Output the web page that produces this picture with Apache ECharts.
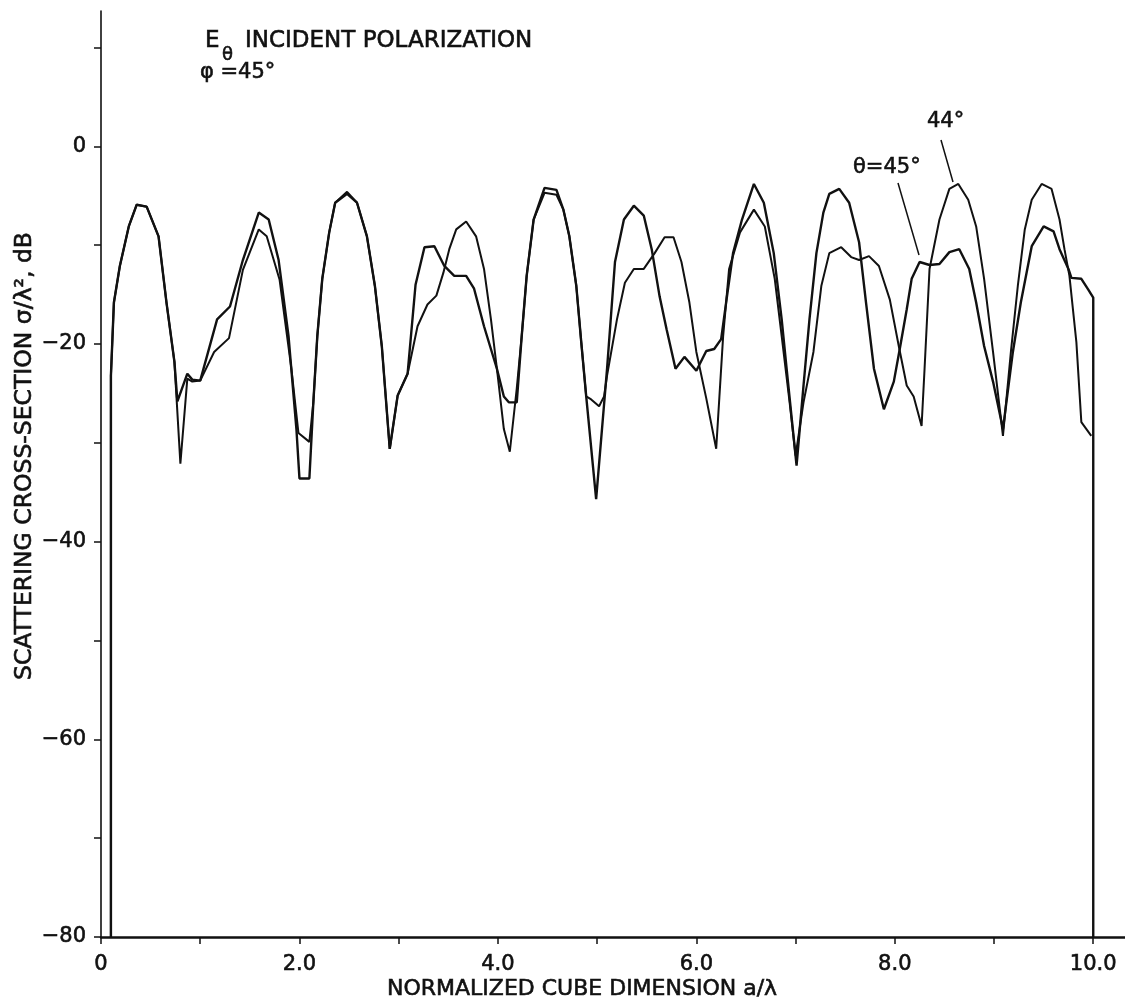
<!DOCTYPE html>
<html>
<head>
<meta charset="utf-8">
<script src="https://cdn.jsdelivr.net/npm/echarts@6/dist/echarts.min.js"></script>
<style>
  html, body { margin: 0; padding: 0; background: #fff; }
  #chart { width: 1125px; height: 1005px; }
</style>
</head>
<body>
<div id="chart"></div>
<script>
// ---- tick values / labels ----
const xTickValues = [0, 1, 2, 3, 4, 5, 6, 7, 8, 9, 10];
const xLabelValues = [0, 2, 4, 6, 8, 10];
const yTickValues = [-80, -70, -60, -50, -40, -30, -20, -10, 0, 10];
const yLabelValues = [-80, -60, -40, -20, 0];

// ---- series: [a/lambda, dB] ----
const theta45 = [
  [0.10,-80],[0.10,-23.2],[0.13,-15.8],[0.19,-12.1],[0.28,-8.1],[0.36,-5.9],[0.46,-6.1],[0.58,-9.1],
  [0.66,-15.8],[0.74,-21.8],[0.77,-25.8],[0.87,-23.0],[0.92,-23.6],[1.00,-23.7],[1.17,-17.5],[1.30,-16.2],
  [1.43,-11.5],[1.59,-6.7],[1.69,-7.4],[1.79,-11.5],[1.89,-19.2],[1.97,-28.7],[2.00,-33.6],[2.10,-33.6],
  [2.14,-25.9],[2.18,-19.2],[2.23,-13.4],[2.30,-8.7],[2.36,-5.7],[2.48,-4.8],[2.58,-5.7],[2.68,-9.1],
  [2.76,-14.1],[2.83,-20.2],[2.91,-30.6],[2.99,-25.2],[3.09,-23.0],[3.17,-14.0],[3.26,-10.2],[3.36,-10.1],
  [3.46,-12.1],[3.56,-13.1],[3.68,-13.1],[3.76,-14.4],[3.86,-18.2],[3.99,-22.5],[4.06,-25.3],[4.11,-25.9],
  [4.19,-25.9],[4.24,-19.2],[4.29,-13.1],[4.36,-7.4],[4.47,-4.2],[4.59,-4.4],[4.66,-6.4],[4.72,-9.1],
  [4.79,-14.1],[4.84,-19.8],[4.89,-25.3],[4.99,-35.7],[5.10,-22.5],[5.18,-11.7],[5.27,-7.4],[5.37,-6.0],
  [5.47,-7.0],[5.55,-10.4],[5.63,-15.2],[5.70,-18.5],[5.79,-22.5],[5.88,-21.3],[6.00,-22.7],[6.10,-20.7],
  [6.18,-20.5],[6.25,-19.5],[6.30,-15.8],[6.37,-10.8],[6.46,-7.4],[6.58,-3.8],[6.68,-5.7],[6.78,-10.8],
  [6.86,-17.5],[6.91,-22.5],[7.01,-32.3],[7.08,-24.2],[7.14,-17.5],[7.21,-10.8],[7.28,-6.7],[7.34,-4.8],
  [7.44,-4.3],[7.54,-5.7],[7.64,-9.7],[7.71,-15.8],[7.79,-22.5],[7.89,-26.6],[7.99,-23.8],[8.05,-20.5],
  [8.12,-16.5],[8.17,-13.4],[8.25,-11.7],[8.35,-12.0],[8.45,-11.9],[8.55,-10.7],[8.65,-10.4],[8.75,-12.4],
  [8.82,-15.8],[8.90,-20.2],[8.99,-23.8],[9.09,-28.6],[9.19,-20.8],[9.27,-15.8],[9.38,-10.1],[9.50,-8.1],
  [9.60,-8.6],[9.66,-10.4],[9.75,-12.4],[9.78,-13.3],[9.88,-13.4],[9.95,-14.5],[10.00,-15.3],[10.00,-80]
];
const theta44 = [
  [0.10,-80],[0.10,-23.2],[0.13,-15.8],[0.19,-12.1],[0.28,-8.1],[0.36,-5.9],[0.46,-6.1],[0.58,-9.1],
  [0.66,-15.8],[0.74,-21.8],[0.80,-32.1],[0.87,-23.5],[0.92,-23.8],[1.00,-23.7],[1.14,-20.8],[1.29,-19.4],
  [1.43,-12.5],[1.59,-8.4],[1.67,-9.1],[1.80,-13.5],[1.92,-22.6],[1.99,-29.0],[2.10,-29.9],[2.14,-25.9],
  [2.18,-19.2],[2.23,-13.4],[2.30,-8.7],[2.36,-5.7],[2.48,-4.6],[2.58,-5.7],[2.68,-9.1],[2.76,-14.1],
  [2.83,-20.2],[2.91,-30.6],[2.99,-25.2],[3.09,-23.0],[3.19,-18.2],[3.29,-16.0],[3.38,-15.1],[3.45,-12.8],
  [3.51,-10.4],[3.58,-8.4],[3.68,-7.6],[3.78,-9.1],[3.86,-12.4],[3.93,-17.5],[3.99,-22.5],[4.06,-28.6],
  [4.12,-30.9],[4.19,-24.5],[4.24,-19.2],[4.29,-13.1],[4.36,-7.4],[4.47,-4.7],[4.59,-4.9],[4.66,-6.4],
  [4.72,-9.1],[4.79,-14.1],[4.84,-19.8],[4.89,-25.3],[4.94,-25.6],[5.02,-26.3],[5.07,-25.3],[5.10,-23.2],
  [5.20,-17.5],[5.28,-13.8],[5.37,-12.4],[5.47,-12.4],[5.58,-10.8],[5.68,-9.2],[5.77,-9.2],[5.85,-11.7],
  [5.93,-15.8],[6.00,-20.8],[6.10,-25.5],[6.20,-30.6],[6.27,-19.2],[6.33,-12.4],[6.44,-8.7],[6.58,-6.4],
  [6.69,-8.1],[6.79,-13.4],[6.86,-19.2],[6.94,-25.9],[7.00,-31.3],[7.08,-25.9],[7.18,-20.8],[7.26,-14.1],
  [7.34,-10.8],[7.46,-10.2],[7.56,-11.2],[7.64,-11.5],[7.74,-11.1],[7.84,-12.1],[7.95,-15.5],[8.04,-20.2],
  [8.12,-24.2],[8.19,-25.3],[8.27,-28.3],[8.30,-22.5],[8.35,-12.4],[8.45,-7.4],[8.55,-4.3],[8.64,-3.8],
  [8.74,-5.4],[8.82,-8.1],[8.90,-13.4],[8.99,-20.8],[9.09,-29.3],[9.17,-20.8],[9.24,-14.1],[9.31,-8.4],
  [9.38,-5.4],[9.48,-3.8],[9.58,-4.3],[9.66,-7.4],[9.71,-10.4],[9.76,-13.1],[9.83,-19.8],[9.88,-27.9],
  [9.98,-29.3]
];

const FONT = 'DejaVu Sans';
const INK = '#111';

const chart = echarts.init(document.getElementById('chart'), null, { renderer: 'canvas' });

function txt(text, x, y, size) {
  return {
    type: 'text', x: x, y: y,
    style: { text: text, fill: INK, font: size + 'px "' + FONT + '"',
             stroke: INK, lineWidth: 0.6, textAlign: 'left', textVerticalAlign: 'middle' }
  };
}

const option = {
  animation: false,
  backgroundColor: '#fff',
  grid: { left: 101, right: 0, top: 11, bottom: 68, containLabel: false },
  xAxis: {
    type: 'value', min: 0, max: 10.32,
    axisLine: { show: true, onZero: false, lineStyle: { color: INK, width: 2.5 } },
    axisTick: { show: true, inside: false, length: 7, customValues: xTickValues,
                lineStyle: { color: INK, width: 1.5 } },
    axisLabel: { show: true, customValues: xLabelValues, margin: 17,
                 color: INK, fontFamily: FONT, fontSize: 21,
                 textBorderColor: INK, textBorderWidth: 0.6,
                 formatter: v => v === 0 ? '0' : v.toFixed(1) },
    splitLine: { show: false }
  },
  yAxis: {
    type: 'value', min: -80, max: 13.7,
    axisLine: { show: true, onZero: false, lineStyle: { color: INK, width: 1.6 } },
    axisTick: { show: true, inside: false, length: 7, customValues: yTickValues,
                lineStyle: { color: INK, width: 1.5 } },
    axisLabel: { show: true, customValues: yLabelValues, margin: 15,
                 color: INK, fontFamily: FONT, fontSize: 21,
                 textBorderColor: INK, textBorderWidth: 0.6,
                 formatter: v => v < 0 ? '\u2212' + Math.abs(v) : String(v) },
    splitLine: { show: false }
  },
  series: [
    { name: 'θ=45°', type: 'line', data: theta45, showSymbol: false, symbol: 'none',
      lineStyle: { color: INK, width: 2.4 }, z: 3 },
    { name: '44°', type: 'line', data: theta44, showSymbol: false, symbol: 'none',
      lineStyle: { color: INK, width: 2.0 }, z: 2 }
  ],
  graphic: [
    txt('E', 205, 41.5, 23),
    txt('θ', 222, 55, 18),
    txt('INCIDENT POLARIZATION', 245, 41.5, 23),
    txt('φ =45°', 200, 72.5, 21),
    txt('44°', 927, 121.5, 21),
    txt('θ=45°', 853, 167.5, 21),
    { type: 'line', shape: { x1: 941, y1: 140, x2: 953, y2: 182 }, style: { stroke: INK, lineWidth: 1.5 } },
    { type: 'line', shape: { x1: 898, y1: 183, x2: 919, y2: 255 }, style: { stroke: INK, lineWidth: 1.5 } },
    txt('NORMALIZED CUBE DIMENSION a/λ', 387, 989, 22),
    { type: 'text', x: 25, y: 456, rotation: Math.PI / 2,
      style: { text: 'SCATTERING CROSS-SECTION σ/λ², dB', fill: INK, font: '23.5px "' + FONT + '"',
               stroke: INK, lineWidth: 0.6, textAlign: 'center', textVerticalAlign: 'middle' } }
  ]
};
chart.setOption(option);
</script>
</body>
</html>
